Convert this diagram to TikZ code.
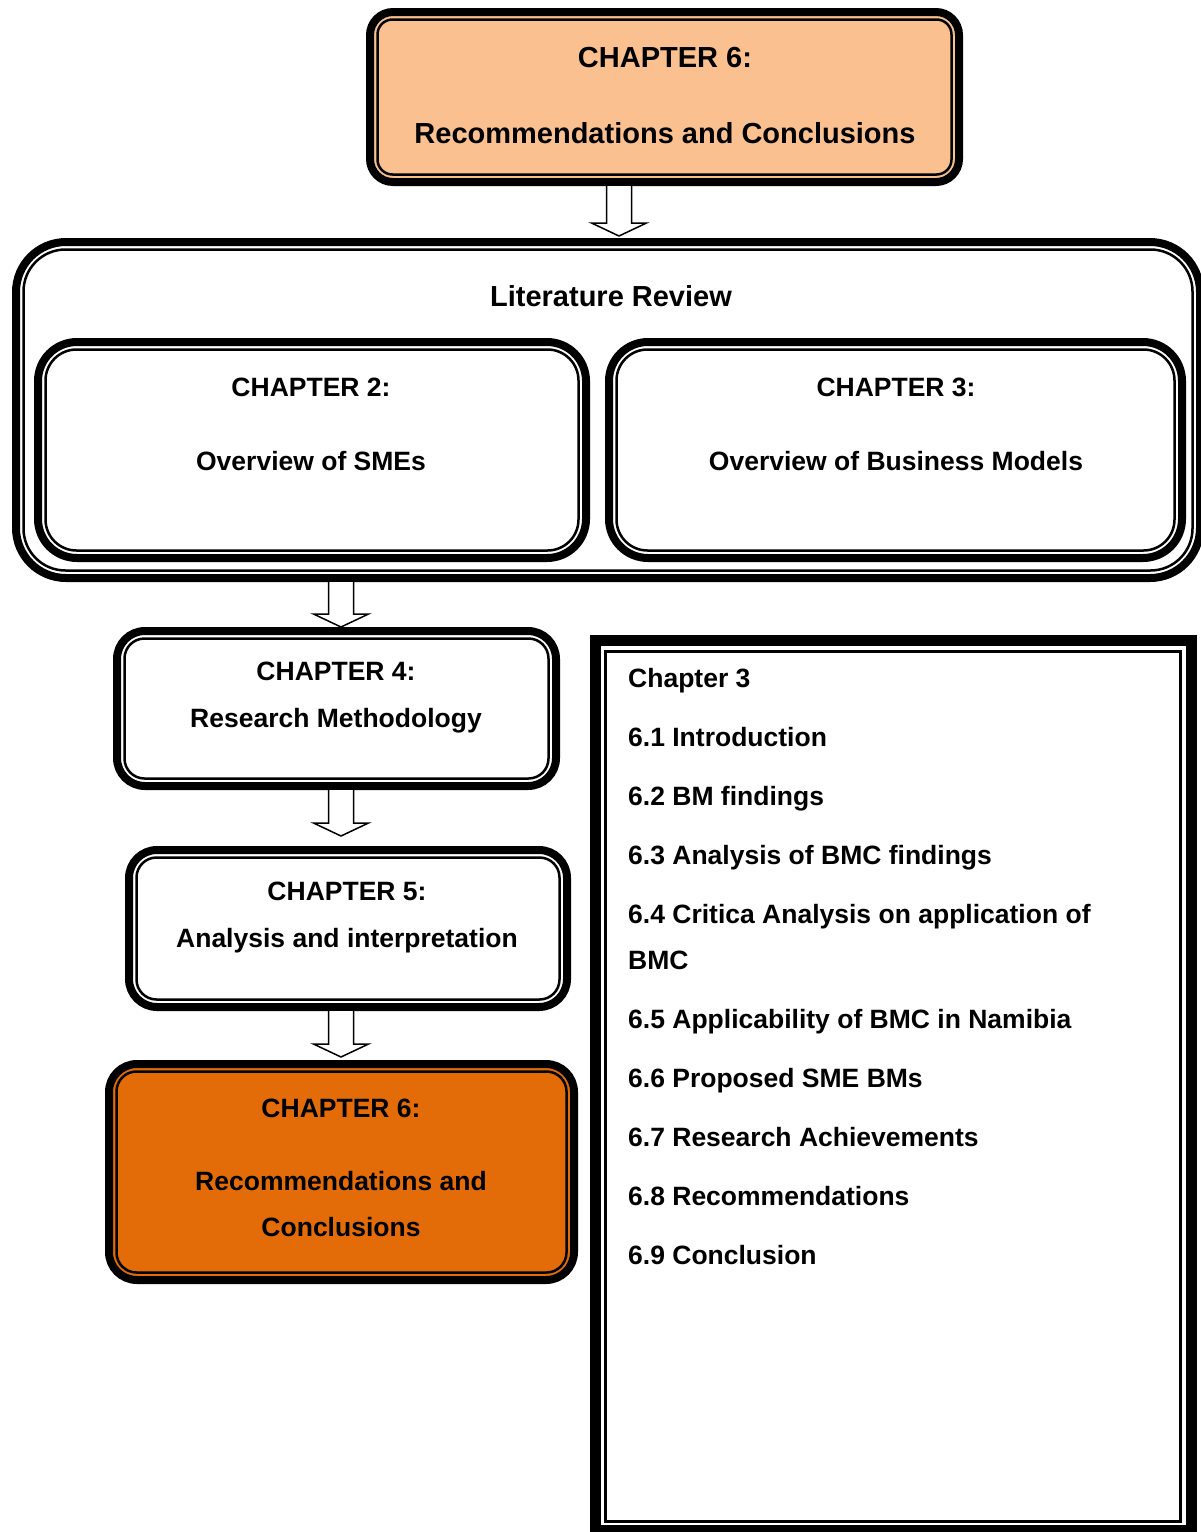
\documentclass[tikz,border=0pt]{standalone}
\usepackage{fontspec}
\setmainfont{Liberation Sans}
\usetikzlibrary{calc}
\definecolor{peach}{HTML}{FAC090}
\definecolor{burntorange}{HTML}{E36C09}

\begin{document}
\begin{tikzpicture}[x=1pt, y=-1pt]
		% Node style
		\tikzset{box style/.style={draw, line width=8pt, fill=white, inner sep=0pt, outer sep=0pt},
				thin style/.style={line width=2.5pt},
				arrow style/.style={draw, line width=1.5pt, fill=white, line join=miter},
				big text/.style={align=center, inner sep=0pt,
								font=\fontsize{29}{50}\selectfont\bfseries},
				text style/.style={align=center, inner sep=0pt,
								font=\fontsize{26.5}{46}\selectfont\bfseries}}
		
		\useasboundingbox (0,0) rectangle (1201,1532);
		
		% Draw boxes
		\node[box style, fill=peach, rounded corners=23pt,
			minimum width=589pt, minimum height=170pt] 	at (664.5, 97) 		(top) {};
		\node[box style, rounded corners=50pt,
			minimum width=1184pt, minimum height=336pt] at (608, 410) 		(lit) {};
		\node[box style, rounded corners=39pt,
			minimum width=548pt, minimum height=216pt] 	at (312, 450) 		(ch2) {};
		\node[box style, rounded corners=39pt,
			minimum width=573pt, minimum height=216pt] 	at (895.5, 450) 	(ch3) {};
		\node[box style, rounded corners=28pt,
			minimum width=439pt, minimum height=155pt] 	at (336.5, 708.5) 	(ch4) {};
		\node[box style, rounded corners=28pt,
			minimum width=438pt, minimum height=157pt] 	at (348, 928.5) 	(ch5) {};
		\node[box style, fill=burntorange, rounded corners=28pt,
			minimum width=465pt, minimum height=216pt] 	at (341.5, 1172) 	(ch6) {};
		\node[draw, line width=11pt, inner sep=0pt, outer sep=0pt,
			minimum width=596pt, minimum height=889.5pt] at (893.5, 1085.25) (list) {};
		
		% Inner lines
		\foreach \b/\r in {top/15pt, lit/42pt, ch2/31pt, ch3/31pt, ch4/20pt, ch5/20pt, ch6/20pt}
			\draw[thin style, rounded corners=\r]
				([shift={(7.5,7.5)}]\b.north west) rectangle ([shift={(-7.5,-7.5)}]\b.south east);
		\draw[line width=3pt] ([shift={(10,11)}]list.north west) rectangle ([shift={(-11,-9)}]list.south east);
		
		% Draw connectors
		\foreach \x/\a/\b/\g in {619/top/lit/2, 341/lit/ch4/0, 341/ch4/ch5/10, 341/ch5/ch6/3}{
			\coordinate (s) at (\x,0 |- \a.south);
			\coordinate (e) at (\x,0 |- \b.north);
			\draw[arrow style] ($(s)+(-12.5,4)$) -- ($(e)+(-12.5,-17-\g)$)
				-- ($(e)+(-27.5,-17-\g)$) -- ($(e)+(0,-4-\g)$) -- ($(e)+(27.5,-17-\g)$)
				-- ($(e)+(12.5,-17-\g)$) -- ($(s)+(12.5,4)$);
		}
		
		% Draw texts
		\node[big text] 	at (665, 96) 		(toptext) {CHAPTER 6:\\[26pt]Recommendations and Conclusions};
		\node[big text] 	at (611, 296) 		(littext) {Literature Review};
		\node[text style] 	at (311, 424) 		(ch2text) {CHAPTER 2:\\[28pt]Overview of SMEs};
		\node[text style] 	at (336, 697.5) 	(ch4text) {CHAPTER 4:\\[1pt]Research Methodology};
		\node[text style] 	at (896, 424) 		(ch3text) {CHAPTER 3:\\[28pt]Overview of Business Models};
		\node[text style] 	at (347, 917.5) 	(ch5text) {CHAPTER 5:\\[1pt]Analysis and interpretation};
		\node[text style] 	at (341, 1168) 		(ch6text) {CHAPTER 6:\\[27pt]Recommendations and\\Conclusions};
		\node[text style, align=left, anchor=north west] at (628, 668) (listtext)
			{Chapter 3\\[13pt]
			6.1 Introduction\\[13pt]
			6.2 BM findings\\[13pt]
			6.3 Analysis of BMC findings\\[13pt]
			6.4 Critica Analysis on application of\\
			BMC\\[13pt]
			6.5 Applicability of BMC in Namibia\\[13pt]
			6.6 Proposed SME BMs\\[13pt]
			6.7 Research Achievements\\[13pt]
			6.8 Recommendations\\[13pt]
			6.9 Conclusion};
		
\end{tikzpicture}
\end{document}
